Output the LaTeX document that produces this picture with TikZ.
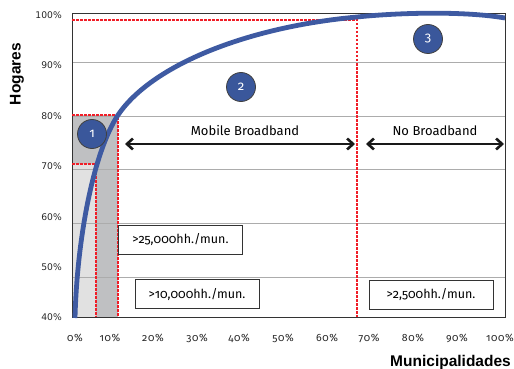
\documentclass[tikz,border=0pt]{standalone}
\usepackage{fontspec}
\setmainfont{Fira Sans}[Numbers=OldStyle]
\newfontfamily\yaxisfont{DejaVu Sans}
\newfontfamily\xaxisfont{Fira Sans}[Numbers=OldStyle,LetterSpace=6]
\newfontfamily\titlefont{Liberation Sans}
\usetikzlibrary{arrows.meta,positioning}
\definecolor{curveblue}{RGB}{62,90,162}
\definecolor{markblue}{RGB}{58,87,155}
\definecolor{gridgray}{RGB}{172,172,172}
\definecolor{shadelight}{RGB}{225,225,225}
\definecolor{shadedark}{RGB}{191,192,194}
\definecolor{guidered}{RGB}{240,30,40}

\begin{document}
\begin{tikzpicture}[x=1pt,y=-1pt,line cap=butt,
 gridline/.style={gridgray,line width=1pt},
 guide/.style={guidered,line width=1.2pt,dash pattern=on 2.5pt off 1.5pt},
 ylab/.style={anchor=east,inner sep=0pt,font=\yaxisfont\fontsize{9.2}{10}\selectfont,text=black!85},
 xlab/.style={inner sep=0pt,font=\xaxisfont\fontsize{10.5}{11}\selectfont,text=black!85},
 numdot/.style={circle,minimum size=29pt,inner sep=0pt,fill=markblue,draw=black!75,
  line width=.8pt,text=white,font=\fontsize{13}{14}\selectfont},
 bandlabel/.style={inner sep=0pt,font=\fontsize{13}{14}\selectfont},
 bigarrow/.style={{Straight Barb[length=6pt,width=11pt]}-{Straight Barb[length=6pt,width=11pt]},
  line width=2.6pt,black!90},
 hhbox/.style={draw=black!80,line width=1pt,fill=white,minimum width=124pt,
  minimum height=29pt,inner sep=0pt,font=\fontsize{12.5}{13}\selectfont},
 axistitle/.style={inner sep=0pt,font=\titlefont\bfseries\fontsize{15.5}{16}\selectfont}]
\useasboundingbox (0,0) rectangle (514,369);
% shaded bands
\fill[shadedark] (72,115) rectangle (118,317);
\fill[shadelight] (72,164) rectangle (96,317);
\foreach \gy in {63,116,169,223,277}
 \draw[gridline] (72,\gy)--(505,\gy);
\draw[black!80,line width=1pt] (72,13.5) rectangle (505,317);
% guide lines
\draw[guide] (72,115)--(118,115)--(118,317);
\draw[guide] (72,164)--(96,164)--(96,317);
\draw[guide] (72,20)--(357,20)--(357,317);
% adoption curve
\draw[curveblue,line width=4.8pt] (75,318)
 .. controls (77,240) and (93,153) .. (118,115)
 .. controls (152,65) and (247,27) .. (357,17)
 .. controls (400,12.5) and (465,11) .. (505,18);
\node[numdot] (one) at (92,134) {1};
\node[numdot] (two) at (241,87) {2};
\node[numdot] (three) at (428,39) {3};
% bands
\coordinate (mobileL) at (125,144);
\coordinate (mobileR) at (355,144);
\coordinate (noneL) at (366,144);
\coordinate (noneR) at (504,144);
\draw[bigarrow] (mobileL)--(mobileR);
\draw[bigarrow] (noneL)--(noneR);
\node[bandlabel] (mobile) at (245,131) {Mobile Broadband};
\node[bandlabel] (none) at (435,131) {No Broadband};
\node[hhbox] (big) at (180.5,239.5) {>25,000hh./mun.};
\node[hhbox] (mid) at (197,294) {>10,000hh./mun.};
\node[hhbox] (small) at (431,294.5) {>2,500hh./mun.};
% axes
\foreach \v/\gy in {40/317,50/267,60/217,70/166,80/116,90/65,100/15}
 \node[ylab] (y\v) at (62,\gy) {\v\%};
\foreach \v/\gx in {0/75,10/110,20/153,30/197,40/239,50/283,60/327,70/369,80/413,90/457,100/500}
 \node[xlab] (x\v) at (\gx,338) {\v\%};
\node[axistitle,rotate=90] (hogares) at (17,74) {Hogares};
\node[axistitle,anchor=east] (munis) at (511,362) {Municipalidades};
\end{tikzpicture}
\end{document}
